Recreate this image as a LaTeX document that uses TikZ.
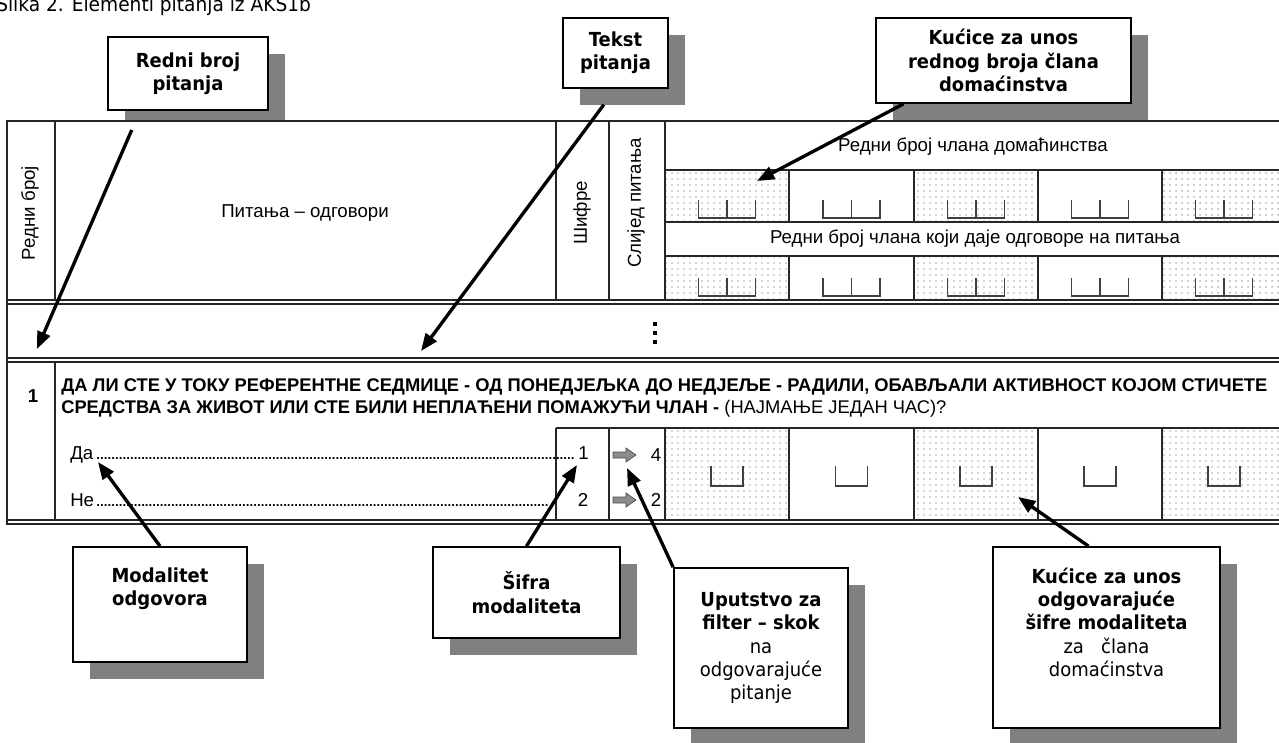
\documentclass[tikz,border=0pt]{standalone}
\usepackage{fontspec}
\setmainfont{Liberation Sans}
\newfontfamily\tahoma{DejaVu Sans}[FakeStretch=0.93]
\usetikzlibrary{positioning,calc,arrows.meta,shadows,patterns.meta}
\newcommand\leaderdots{\leaders\hbox to 2.8pt{\hss.\hss}\hfill}
\tikzset{
  callout/.style={draw, line width=1.3pt, fill=white, align=center, inner sep=3pt,
    font=\tahoma\bfseries\fontsize{14.5}{17.5}\selectfont,
    drop shadow={shadow xshift=12.5pt, shadow yshift=-12.5pt, fill=black!50, opacity=1}},
  calltext/.style={align=center, inner sep=0pt, font=\tahoma\fontsize{14.5}{17.5}\selectfont},
  pointer/.style={line width=2.5pt, -{Triangle[length=13pt,width=10pt]}},
  rule/.style={line width=1pt, black!85},
  dotbox/.style={pattern={Dots[distance=4.5pt,radius=0.55pt]}, pattern color=black!70},
  comb/.style={line width=0.8pt, black!75},
  cell/.style={font=\fontsize{14}{16}\selectfont},
}

\begin{document}
\begin{tikzpicture}[x=0.75pt, y=-0.75pt]
    \useasboundingbox (0,0) rectangle (1279,743);

    \node[anchor=base west, inner sep=0pt, font=\tahoma\fontsize{15}{18}\selectfont] (caption) at (-4,11) {Slika 2. Elementi pitanja iz AKS1b};

    % callouts
    \node[callout, minimum width=120pt, minimum height=54.75pt] (rbp) at (188,73.5) {Redni broj\\pitanja};
    \node[callout, minimum width=78.75pt, minimum height=52.5pt] (tekst) at (615.5,53) {Tekst\\pitanja};
    \node[callout, minimum width=191.25pt, minimum height=63.75pt] (kuca) at (1003.5,60.5) {Kućice za unos\\rednog broja člana\\domaćinstva};
    \node[callout, minimum width=130.5pt, minimum height=86.25pt] (modal) at (160,604.5) {};
    \node[calltext, font=\tahoma\bfseries\fontsize{14.5}{17.5}\selectfont, below=16pt] (modaltxt) at (modal.north) {Modalitet\\odgovora};
    \node[callout, minimum width=140.25pt, minimum height=68.25pt] (sifra) at (526.5,592.5) {Šifra\\modaliteta};
    \node[callout, minimum width=130.5pt, minimum height=120pt] (uput) at (761,648) {Uputstvo za\\filter – skok\\{\mdseries na}\\{\mdseries odgovarajuće}\\{\mdseries pitanje}};
    \node[callout, minimum width=170.25pt, minimum height=135.75pt] (kucb) at (1106.5,637.5) {};
    \node[calltext, below=16pt] (kucbtxt) at (kucb.north) {\textbf{Kućice za unos}\\\textbf{odgovarajuće}\\\textbf{šifre modaliteta}\\za~~~člana\\domaćinstva};

    % table frame
    \fill[white] (7,121) rectangle (1290,524);
    \draw[rule, line width=1.4pt] (1290,121) -- (7,121) -- (7,524) -- (1290,524);
    \draw[rule] (7,520) -- (1290,520);
    \draw[rule] (7,300) -- (1290,300);
    \draw[rule] (7,304) -- (1290,304);
    \draw[rule] (7,358) -- (1290,358);
    \draw[rule] (7,362) -- (1290,362);
    \draw[rule] (55,121) -- (55,300);
    \draw[rule] (556,121) -- (556,300);
    \draw[rule] (609,121) -- (609,300);
    \draw[rule] (665,121) -- (665,300);
    \draw[rule] (665,170) -- (1290,170);
    \draw[rule] (665,222) -- (1290,222);
    \draw[rule] (665,256) -- (1290,256);
    \draw[rule] (55,362) -- (55,520);
    \draw[rule] (556,428) -- (1290,428);
    \draw[rule] (556,428) -- (556,520);
    \draw[rule] (609,428) -- (609,520);

    % member boxes
    \foreach \x in {665,914,1162}{
        \fill[dotbox] (\x,170) rectangle ++(124,52);
        \fill[dotbox] (\x,256) rectangle ++(124,44);
        \fill[dotbox] (\x,428) rectangle ++(124,92);
    }
    \foreach \x in {665,789,914,1038,1162,1286}{
        \draw[rule] (\x,170) -- (\x,222);
        \draw[rule] (\x,256) -- (\x,300);
        \draw[rule] (\x,428) -- (\x,520);
    }
    \foreach \cx in {727,851.5,976,1100,1224}{
        \draw[comb] (\cx-28.5,200) -- (\cx-28.5,218) -- (\cx+28.5,218) -- (\cx+28.5,200) (\cx,200) -- (\cx,218);
        \draw[comb] (\cx-28.5,278) -- (\cx-28.5,296) -- (\cx+28.5,296) -- (\cx+28.5,278) (\cx,278) -- (\cx,296);
        \draw[comb] (\cx-16,466) -- (\cx-16,486) -- (\cx+16,486) -- (\cx+16,466);
    }

    % header texts
    \node[cell, rotate=90] (hrb) at (30,213) {Редни број};
    \node[cell] (hpo) at (305,213) {Питања – одговори};
    \node[cell, rotate=90] (hsif) at (582,213) {Шифре};
    \node[cell, rotate=90] (hsli) at (636,203) {Слијед питања};
    \node[cell] (hclan) at (973,147) {Редни број члана домаћинства};
    \node[cell] (hodg) at (975,239) {Редни број члана који даје одговоре на питања};
    \foreach \y in {322,331,340}
        \fill (653,\y) rectangle ++(4,4);

    % question 1
    \node[font=\bfseries\fontsize{14}{16}\selectfont] (qno) at (33,396) {1};
    \node[anchor=west, inner sep=0pt, font=\bfseries\fontsize{13.75}{16}\selectfont] (qa) at (61,387) {ДА ЛИ СТЕ У ТОКУ РЕФЕРЕНТНЕ СЕДМИЦЕ - ОД ПОНЕДЈЕЉКА ДО НЕДЈЕЉЕ - РАДИЛИ, ОБАВЉАЛИ АКТИВНОСТ КОЈОМ СТИЧЕТЕ};
    \node[anchor=west, inner sep=0pt, font=\bfseries\fontsize{13.75}{16}\selectfont] (qb) at (61,409) {СРЕДСТВА ЗА ЖИВОТ ИЛИ СТЕ БИЛИ НЕПЛАЋЕНИ ПОМАЖУЋИ ЧЛАН - {\mdseries (НАЈМАЊЕ ЈЕДАН ЧАС)?}};
    \node[cell, anchor=west, inner sep=0pt] (da) at (70,455) {\hbox to 388.5pt{Да\leaderdots 1}};
    \node[cell, anchor=west, inner sep=0pt] (ne) at (70,500) {\hbox to 358.5pt{Не\leaderdots}};
    \node[cell] (sif2) at (583,500) {2};
    \node[cell] (go4) at (656,455) {4};
    \node[cell] (go2) at (656,500) {2};
    \foreach \y in {455,500}
        \filldraw[fill=black!45, draw=black!70, line width=0.5pt] (613,\y-3) -- (626,\y-3) -- (626,\y-7) -- (636,\y) -- (626,\y+7) -- (626,\y+3) -- (613,\y+3) -- cycle;

    % pointers
    \coordinate (rbptip) at (37,349);
    \coordinate (tekstip) at (421,351);
    \coordinate (kucatip) at (757,181);
    \coordinate (modtip) at (98,462);
    \coordinate (siftip) at (577,465);
    \coordinate (uputtip) at (627,468);
    \coordinate (kucbtip) at (1018,497);
    \coordinate (rbpfoot) at ([xshift=-36pt]rbp.south);
    \coordinate (kucafoot) at ([xshift=-75pt]kuca.south);
    \coordinate (kucbfoot) at ([xshift=-13.5pt]kucb.north);
    \draw[pointer] ($(rbpfoot)!0.08!(rbptip)$) -- (rbptip);
    \draw[pointer] ($(tekst.south)!0.06!(tekstip)$) -- (tekstip);
    \draw[pointer] (kucafoot) -- (kucatip);
    \draw[pointer] (modal.north) -- (modtip);
    \draw[pointer] (sifra.north) -- (siftip);
    \draw[pointer] (uput.north west) -- (uputtip);
    \draw[pointer] (kucbfoot) -- (kucbtip);
\end{tikzpicture}
\end{document}
